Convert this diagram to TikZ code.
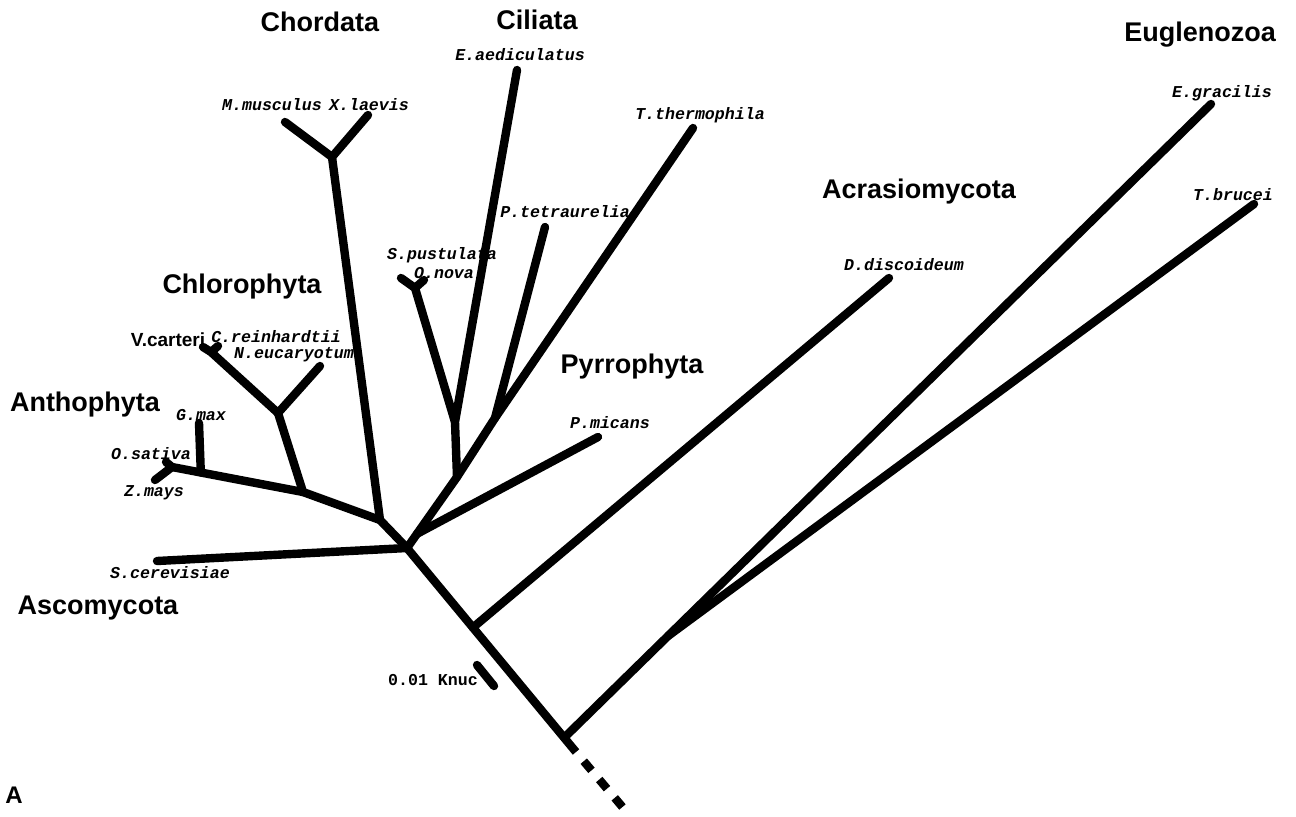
\documentclass[tikz,border=0pt]{standalone}
\usepackage{fontspec}
\setmainfont{Liberation Sans}
\newfontfamily\monofont{Liberation Mono}
\usetikzlibrary{calc}
\begin{document}
\begin{tikzpicture}[x=0.5pt,y=-0.5pt,
  br/.style={line width=4.2pt, line cap=round, line join=round},
  sp/.style={font=\monofont\bfseries\itshape\fontsize{8.3}{9}\selectfont, inner sep=0pt},
  grp/.style={font=\bfseries\fontsize{13.5}{15}\selectfont, inner sep=0pt}]
\fill[white] (0,0) rectangle (1296,816);
\useasboundingbox (0,0) rectangle (1296,816);

% coordinates
\coordinate (cen) at (407,548);
\coordinate (tend) at (576,752);
\coordinate (dend) at (625,810);
\coordinate (acr) at ($(cen)!0.39!(tend)$);
\coordinate (root) at ($(cen)!0.93!(tend)$);
\coordinate (eug) at (668,636);
\coordinate (egr) at (1211,104);
\coordinate (tbr) at (1254,204);
\coordinate (ddi) at (889,278);
\coordinate (scer) at (157,561);
\coordinate (cp) at (380,520);
\coordinate (chf) at (332,157);
\coordinate (mmu) at (285,122);
\coordinate (xla) at (368,115);
\coordinate (pl) at (303,492);
\coordinate (chl) at (278,413);
\coordinate (neu) at (320,366);
\coordinate (vc) at (211,352);
\coordinate (vca) at (203,347);
\coordinate (cre) at (218,346);
\coordinate (oz) at (172,467);
\coordinate (an) at ($(pl)!0.78!(oz)$);
\coordinate (gma) at (199,423);
\coordinate (osa) at (166,462);
\coordinate (zma) at (155,480);
\coordinate (cil) at (457,477);
\coordinate (pm) at ($(cen)!0.2!(cil)$);
\coordinate (pmi) at (598,437);
\coordinate (sp) at (455,422);
\coordinate (eae) at (517,70);
\coordinate (spf) at (415,288);
\coordinate (spu) at (401,278);
\coordinate (ono) at (424,280);
\coordinate (pt) at (495,418);
\coordinate (pte) at (545,227);
\coordinate (tth) at (693,128);
\coordinate (sb1) at (477,665);
\coordinate (sb2) at (494,686);

% trunk
\draw[br, line cap=butt] (cen) -- (tend);
\draw[line width=4.2pt, dash pattern=on 6pt off 6pt, dash phase=6pt] (tend) -- (dend);
% Euglenozoa
\draw[br] (root) -- (eug) -- (egr);
\draw[br] (eug) -- (tbr);
% Acrasiomycota
\draw[br] (acr) -- (ddi);
% Ascomycota
\draw[br] (cen) -- (scer);
% Chordata + plants
\draw[br] (cen) -- (cp) -- (chf) -- (mmu);
\draw[br] (chf) -- (xla);
\draw[br] (cp) -- (pl) -- (chl) -- (neu);
\draw[br] (chl) -- (vc) -- (vca);
\draw[br] (vc) -- (cre);
\draw[br] (pl) -- (oz) -- (osa);
\draw[br] (oz) -- (zma);
\draw[br] (an) -- (gma);
% Ciliata + Pyrrophyta
\draw[br] (cen) -- (cil) -- (sp) -- (eae);
\draw[br] (sp) -- (spf) -- (spu);
\draw[br] (spf) -- (ono);
\draw[br] (cil) -- (pt) -- (pte);
\draw[br] (pt) -- (tth);
\draw[br] (pm) -- (pmi);
% scale bar
\draw[br] (sb1) -- (sb2);

% species labels
\node[sp] (lmmu) at (272,105) {M.musculus};
\node[sp] (lxla) at (369,105) {X.laevis};
\node[sp] (leae) at (520,55) {E.aediculatus};
\node[sp] (ltth) at (700,115) {T.thermophila};
\node[sp] (lpte) at (565,212) {P.tetraurelia};
\node[sp] (lspu) at (442,255) {S.pustulata};
\node[sp] (lono) at (444,273) {O.nova};
\node[sp] (lddi) at (904,265) {D.discoideum};
\node[sp] (legr) at (1222,93) {E.gracilis};
\node[sp] (ltbr) at (1233,195) {T.brucei};
\node[sp] (lpmi) at (610,423) {P.micans};
\node[sp] (lcre) at (276,337) {C.reinhardtii};
\node[sp] (lneu) at (294,355) {N.eucaryotum};
\node[sp] (lgma) at (201,415) {G.max};
\node[sp] (losa) at (151,454) {O.sativa};
\node[sp] (lzma) at (154,493) {Z.mays};
\node[sp] (lscer) at (170,573) {S.cerevisiae};
\node[font=\bfseries\fontsize{9.5}{11}\selectfont, inner sep=0pt] (lvca) at (168,340) {V.carteri};
\node[font=\monofont\bfseries\fontsize{8.3}{9}\selectfont, inner sep=0pt] (lsb) at (433,680) {0.01 Knuc};

% group labels
\node[grp] (gchor) at (320,22) {Chordata};
\node[grp] (gcil) at (537,20) {Ciliata};
\node[grp] (geug) at (1200,35) {Euglenozoa};
\node[grp] (gacr) at (919,192) {Acrasiomycota};
\node[grp] (gchl) at (242,287) {Chlorophyta};
\node[grp] (gpyr) at (632,367) {Pyrrophyta};
\node[grp] (gant) at (85,405) {Anthophyta};
\node[grp] (gasc) at (98,608) {Ascomycota};
\node[font=\bfseries\fontsize{12}{14}\selectfont, inner sep=0pt] (lA) at (14,795) {A};
\end{tikzpicture}
\end{document}
